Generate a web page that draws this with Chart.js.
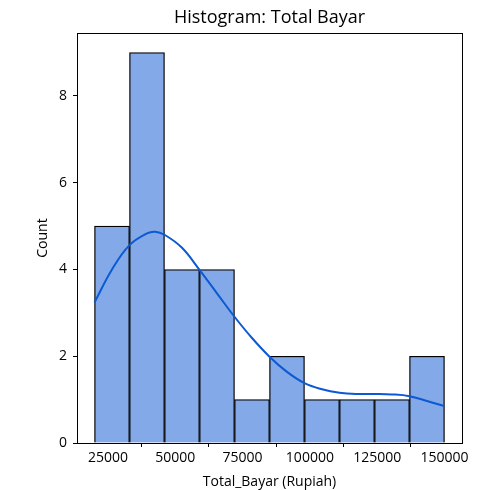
<!DOCTYPE html>
<html>
<head>
<meta charset="utf-8">
<script src="https://cdn.jsdelivr.net/npm/chart.js@4.4.0/dist/chart.umd.min.js"></script>
<style>
  html, body { margin: 0; padding: 0; background: #fff; }
</style>
</head>
<body>
<canvas id="myChart" width="480" height="490"></canvas>
<script>
// histogram bins (Rupiah), width 13000
var binEdges = [20000, 33000, 46000, 59000, 72000, 85000, 98000, 111000, 124000, 137000, 150000];
var binCounts = [5, 9, 4, 4, 1, 2, 1, 1, 1, 2];

// kde curve
var kdeX = [20000, 26500, 33000, 39500, 42500, 46000, 52500, 59000, 65500, 72000, 78500, 85000,
            91500, 98000, 104500, 111000, 117500, 124000, 130500, 137000, 143500, 150000];
var kdeY = [3.24, 4.0, 4.56, 4.83, 4.87, 4.80, 4.5, 3.99, 3.45, 2.91, 2.42, 1.99,
            1.64, 1.38, 1.24, 1.16, 1.13, 1.13, 1.12, 1.08, 0.97, 0.85];

var xTicks = [25000, 50000, 75000, 100000, 125000, 150000];
var yTicks = [0, 2, 4, 6, 8];

var barData = [];
for (var i = 0; i < binCounts.length; i++) {
  barData.push({ x: (binEdges[i] + binEdges[i + 1]) / 2, y: binCounts[i] });
}
var kdeData = kdeX.map(function (x, i) { return { x: x, y: kdeY[i] }; });

var fontFam = "'Open Sans', 'DejaVu Sans', sans-serif";

// black box round the plot area + title centred over it
var frame = {
  id: 'frame',
  afterDraw: function (chart) {
    var a = chart.chartArea, c = chart.ctx;
    c.save();
    c.strokeStyle = '#000';
    c.lineWidth = 1;
    c.strokeRect(a.left + 0.5, a.top + 0.5, a.right - a.left, a.bottom - a.top);
    c.fillStyle = '#000';
    c.font = '18px ' + fontFam;
    c.textAlign = 'center';
    c.textBaseline = 'middle';
    c.fillText('Histogram: Total Bayar', (a.left + a.right) / 2, 18);
    c.restore();
  }
};

new Chart(document.getElementById('myChart'), {
  type: 'bar',
  data: {
    datasets: [
      {
        type: 'line',
        data: kdeData,
        borderColor: '#0b5ad3',
        borderWidth: 2,
        pointRadius: 0,
        tension: 0.4,
        fill: false,
        order: 0
      },
      {
        type: 'bar',
        data: barData,
        backgroundColor: '#84a9e8',
        borderColor: '#000',
        borderWidth: 1.3,
        barPercentage: 1,
        categoryPercentage: 1,
        order: 1
      }
    ]
  },
  options: {
    responsive: false,
    animation: false,
    layout: { padding: { left: 35, right: 18, top: 33, bottom: 0 } },
    plugins: {
      legend: { display: false },
      tooltip: { enabled: false },
      title: { display: false }
    },
    scales: {
      x: {
        type: 'linear',
        offset: false,
        min: 13500,
        max: 156500,
        afterBuildTicks: function (s) { s.ticks = xTicks.map(function (v) { return { value: v }; }); },
        afterFit: function (s) { s.height = 47; },
        grid: { drawOnChartArea: false, drawTicks: true, tickLength: 4, color: '#000' },
        border: { display: true, color: '#000' },
        ticks: { color: '#000', font: { family: fontFam, size: 14 }, maxRotation: 0, autoSkip: false, padding: 3,
                  callback: function (v) { return String(v); } },
        title: { display: true, text: 'Total_Bayar (Rupiah)', color: '#000',
                 font: { family: fontFam, size: 14 }, padding: { top: 1, bottom: 0 } }
      },
      y: {
        min: 0,
        max: 9.45,
        afterBuildTicks: function (s) { s.ticks = yTicks.map(function (v) { return { value: v }; }); },
        afterFit: function (s) { s.width = 42; },
        grid: { drawOnChartArea: false, drawTicks: true, tickLength: 4, color: '#000' },
        border: { display: true, color: '#000' },
        ticks: { color: '#000', font: { family: fontFam, size: 14 }, autoSkip: false, padding: 6 },
        title: { display: true, text: 'Count', color: '#000',
                 font: { family: fontFam, size: 14 }, padding: { top: 0, bottom: 0 } }
      }
    }
  },
  plugins: [frame]
});
</script>
</body>
</html>
